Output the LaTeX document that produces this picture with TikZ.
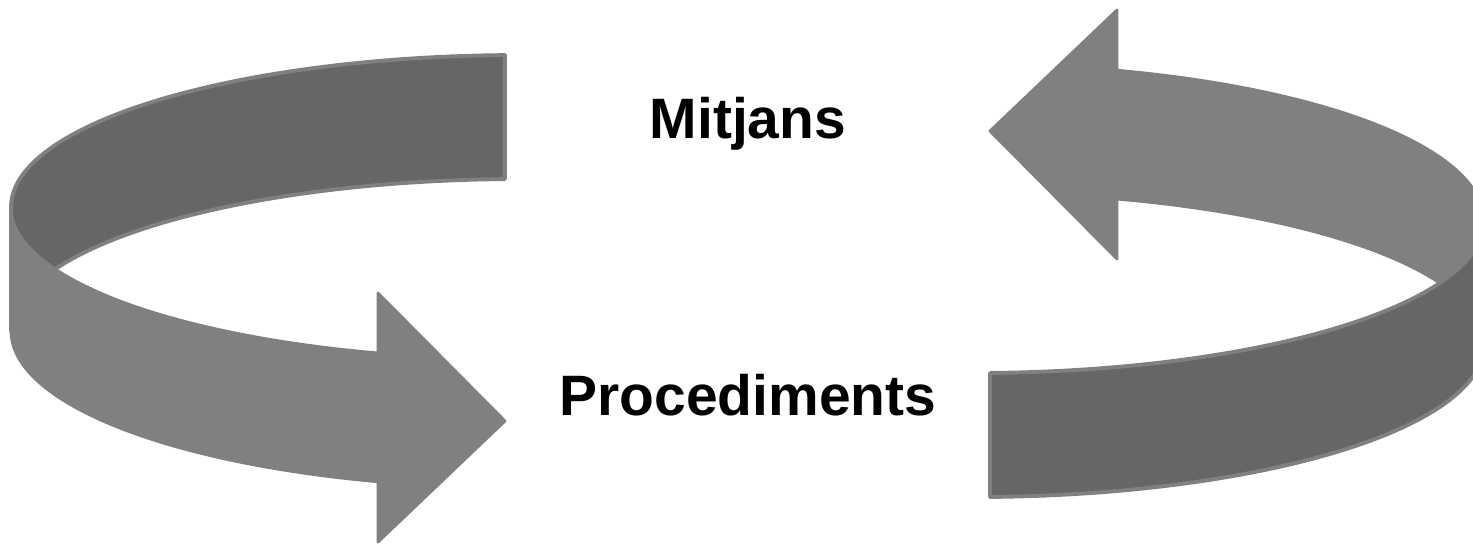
\documentclass[tikz,border=0pt]{standalone}
\usepackage{fontspec}
\setmainfont{Liberation Sans}
\usepackage{tikz}
\usetikzlibrary{positioning}
\definecolor{bandlight}{HTML}{808080}
\definecolor{banddark}{HTML}{666666}

\begin{document}
\begin{tikzpicture}[x=0.01cm, y=-0.01cm,
		frontband/.style={fill=bandlight, draw=bandlight, line width=0.8pt, line join=round},
		backband/.style={fill=banddark, draw=bandlight, line width=1.1pt, line join=round},
		lbl/.style={font=\fontsize{16.2}{19}\selectfont\bfseries, text=black, inner sep=0pt, anchor=base}]
		
		\useasboundingbox (0,0) rectangle (1473,544);
		\clip (0,0) rectangle (1473,544);
		
		% Left arrow: inner face behind, outer face with head in front
		\draw[backband] plot[domain=268.3:180, samples=60] ({520+509*cos(\x)},{207+152*sin(\x)})
		-- (11,331)
		-- plot[domain=180:268.3, samples=60] ({520+509*cos(\x)},{331+152*sin(\x)}) -- cycle;
		\draw[frontband] plot[domain=180:106.2, samples=60] ({520+509*cos(\x)},{207+152*sin(\x)})
		-- (378,293) -- (505,421) -- (378,542)
		-- plot[domain=106.2:180, samples=60] ({520+509*cos(\x)},{331+157*sin(\x)}) -- cycle;
		
		% Right arrow: same ribbon turned half round, dark face in front
		\begin{scope}[rotate around={180:(747.5,276)}]
			\draw[frontband] plot[domain=180:106.2, samples=60] ({520+509*cos(\x)},{207+152*sin(\x)})
			-- (378,293) -- (505,421) -- (378,542)
			-- plot[domain=106.2:180, samples=60] ({520+509*cos(\x)},{331+157*sin(\x)}) -- cycle;
			\draw[backband] plot[domain=268.3:180, samples=60] ({520+509*cos(\x)},{207+152*sin(\x)})
			-- (11,331)
			-- plot[domain=180:268.3, samples=60] ({520+509*cos(\x)},{331+152*sin(\x)}) -- cycle;
		\end{scope}
		
		% Labels
		\node[lbl] (mitjans) at (748,138) {Mitjans};
		\node[lbl] (procediments) at (748,415) {Procediments};
		
	\end{tikzpicture}
\end{document}
